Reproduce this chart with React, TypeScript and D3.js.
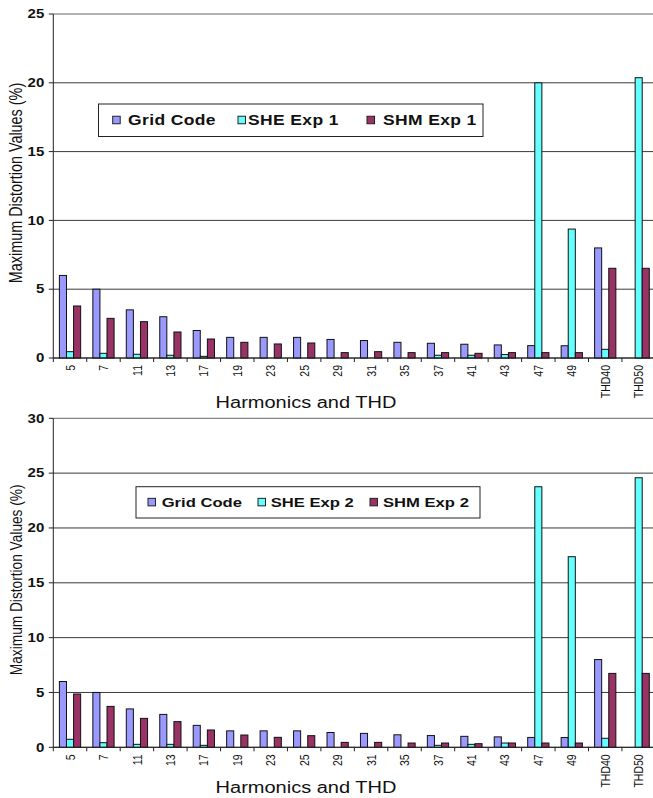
import React from "react";
import * as d3 from "d3";

const categories = ["5", "7", "11", "13", "17", "19", "23", "25", "29", "31", "35", "37", "41", "43", "47", "49", "THD40", "THD50"];
const gridCode = [6, 5, 3.5, 3, 2, 1.5, 1.5, 1.5, 1.35, 1.27, 1.14, 1.07, 1.0, 0.95, 0.9, 0.89, 8.0, 0];
const sheExp1 = [0.46, 0.34, 0.27, 0.2, 0.12, 0, 0, 0, 0, 0, 0, 0.2, 0.2, 0.25, 20.0, 9.37, 0.63, 20.37];
const shmExp1 = [3.78, 2.88, 2.64, 1.89, 1.38, 1.14, 1.02, 1.09, 0.39, 0.46, 0.39, 0.39, 0.34, 0.39, 0.39, 0.39, 6.52, 6.52];
const sheExp2 = [0.73, 0.42, 0.27, 0.27, 0.18, 0, 0, 0, 0, 0, 0, 0.18, 0.27, 0.39, 23.76, 17.38, 0.82, 24.58];
const shmExp2 = [4.86, 3.73, 2.64, 2.34, 1.58, 1.12, 0.91, 1.06, 0.45, 0.45, 0.39, 0.39, 0.33, 0.39, 0.39, 0.39, 6.74, 6.74];
const ticksTop = [0, 5, 10, 15, 20, 25];
const ticksBottom = [0, 5, 10, 15, 20, 25, 30];
const seriesNames1 = ["Grid Code", "SHE Exp 1", "SHM Exp 1"];
const seriesNames2 = ["Grid Code", "SHE Exp 2", "SHM Exp 2"];
const colors = ["#9999FF", "#66FFFF", "#993366"];
const xTitle = "Harmonics and THD";
const yTitle = "Maximum Distortion Values (%)";

const FONT = "'Liberation Sans', Arial, Helvetica, sans-serif";
const SX = 1.25;

type ChartProps = {
  series: number[][];
  names: string[];
  ticks: number[];
  y0: number;
  y1: number;
  yTitleSize: number;
  titleOffset: number;
  legend: { x0: number; x1: number; y0: number; y1: number; sw: number[]; tx: number[]; fs: number; ls: number };
};

function Chart({ series, names, ticks, y0, y1, yTitleSize, titleOffset, legend }: ChartProps) {
  const left = 53.3;
  const right = 655.4;
  const x = d3.scaleBand<string>().domain(categories).range([left, right]).padding(0);
  const bw = x.bandwidth();
  const inner = d3
    .scaleBand<string>()
    .domain(names)
    .range([6.1, bw - 6.1])
    .padding(0);
  const y = d3
    .scaleLinear()
    .domain([0, ticks[ticks.length - 1]])
    .range([y0, y1]);
  const boundaries = categories.map((c) => x(c) as number).concat([right]);
  const legendMid = (legend.y0 + legend.y1) / 2;
  return (
    <g>
      {ticks.map((t, i) => (
        <line
          key={"g" + t}
          x1={left}
          x2={660}
          y1={y(t)}
          y2={y(t)}
          stroke={i === ticks.length - 1 ? "#666" : "#3a3a3a"}
          strokeWidth={1}
        />
      ))}
      {ticks.map((t) => (
        <line key={"yt" + t} x1={left - 4.5} x2={left} y1={y(t)} y2={y(t)} stroke="#222" strokeWidth={1} />
      ))}
      {ticks.map((t) => (
        <text
          key={"yl" + t}
          transform={`translate(${left - 9},${y(t)}) scale(${SX},1)`}
          textAnchor="end"
          dy="0.35em"
          fontFamily={FONT}
          fontWeight="bold"
          fontSize={12}
          fill="#111"
        >
          {t}
        </text>
      ))}
      {series.map((vals, si) =>
        vals.map((v, ci) => {
          const bx = (x(categories[ci]) as number) + (inner(names[si]) as number);
          return (
            <rect
              key={`b${si}-${ci}`}
              x={bx}
              y={y(v)}
              width={inner.bandwidth()}
              height={Math.max(0, y(0) - y(v))}
              fill={colors[si]}
              stroke="#111"
              strokeWidth={1}
            />
          );
        })
      )}
      <line x1={left} x2={660} y1={y(0)} y2={y(0)} stroke="#222" strokeWidth={1} />
      <line x1={left} x2={left} y1={y1} y2={y0} stroke="#222" strokeWidth={1} />
      {boundaries.map((b, i) => (
        <line key={"xt" + i} x1={b} x2={b} y1={y0} y2={y0 + 4} stroke="#222" strokeWidth={1} />
      ))}
      {categories.map((c) => (
        <text
          key={"xl" + c}
          transform={`translate(${(x(c) as number) + bw / 2},${y0 + 7}) scale(${SX},1) rotate(-90)`}
          textAnchor="end"
          dy="0.35em"
          fontFamily={FONT}
          fontSize={10.5}
          fill="#111"
        >
          {c}
        </text>
      ))}
      <text
        transform={`translate(${306},${y0 + titleOffset}) scale(${SX},1)`}
        textAnchor="middle"
        fontFamily={FONT}
        fontSize={16}
        fill="#111"
      >
        {xTitle}
      </text>
      <text
        transform={`translate(${22},${(y0 + y1) / 2 - 3}) scale(${SX},1) rotate(-90)`}
        textAnchor="middle"
        fontFamily={FONT}
        fontSize={yTitleSize}
        fill="#111"
      >
        {yTitle}
      </text>
      <rect
        x={legend.x0}
        y={legend.y0}
        width={legend.x1 - legend.x0}
        height={legend.y1 - legend.y0}
        fill="#fff"
        stroke="#222"
        strokeWidth={1}
      />
      {names.map((n, i) => (
        <g key={"lg" + n}>
          <rect x={legend.sw[i]} y={legendMid - 4} width={7.5} height={7.5} fill={colors[i]} stroke="#222" strokeWidth={1} />
          <text
            transform={`translate(${legend.tx[i]},${legendMid}) scale(${SX},1)`}
            dy="0.36em"
            fontFamily={FONT}
            fontWeight="bold"
            fontSize={legend.fs}
            letterSpacing={legend.ls}
            fill="#111"
          >
            {n}
          </text>
        </g>
      ))}
    </g>
  );
}

export default function App() {
  return (
    <svg
      width={653}
      height={798}
      viewBox="0 0 653 798"
      style={{ position: "absolute", left: 0, top: 0, display: "block", background: "#fff" }}
    >
      <rect x={0} y={0} width={653} height={798} fill="#fff" />
      <Chart
        series={[gridCode, sheExp1, shmExp1]}
        names={seriesNames1}
        ticks={ticksTop}
        y0={358}
        y1={14}
        yTitleSize={14.4}
        titleOffset={50}
        legend={{ x0: 98.5, x1: 483, y0: 104, y1: 136.5, sw: [112.7, 238, 367], tx: [128, 248, 383], fs: 14, ls: 0.3 }}
      />
      <Chart
        series={[gridCode, sheExp2, shmExp2]}
        names={seriesNames2}
        ticks={ticksBottom}
        y0={747.3}
        y1={418.3}
        yTitleSize={13.7}
        titleOffset={45.5}
        legend={{ x0: 136, x1: 480, y0: 486.7, y1: 518, sw: [148, 258, 370], tx: [161.7, 270.7, 383], fs: 13.3, ls: 0 }}
      />
    </svg>
  );
}
